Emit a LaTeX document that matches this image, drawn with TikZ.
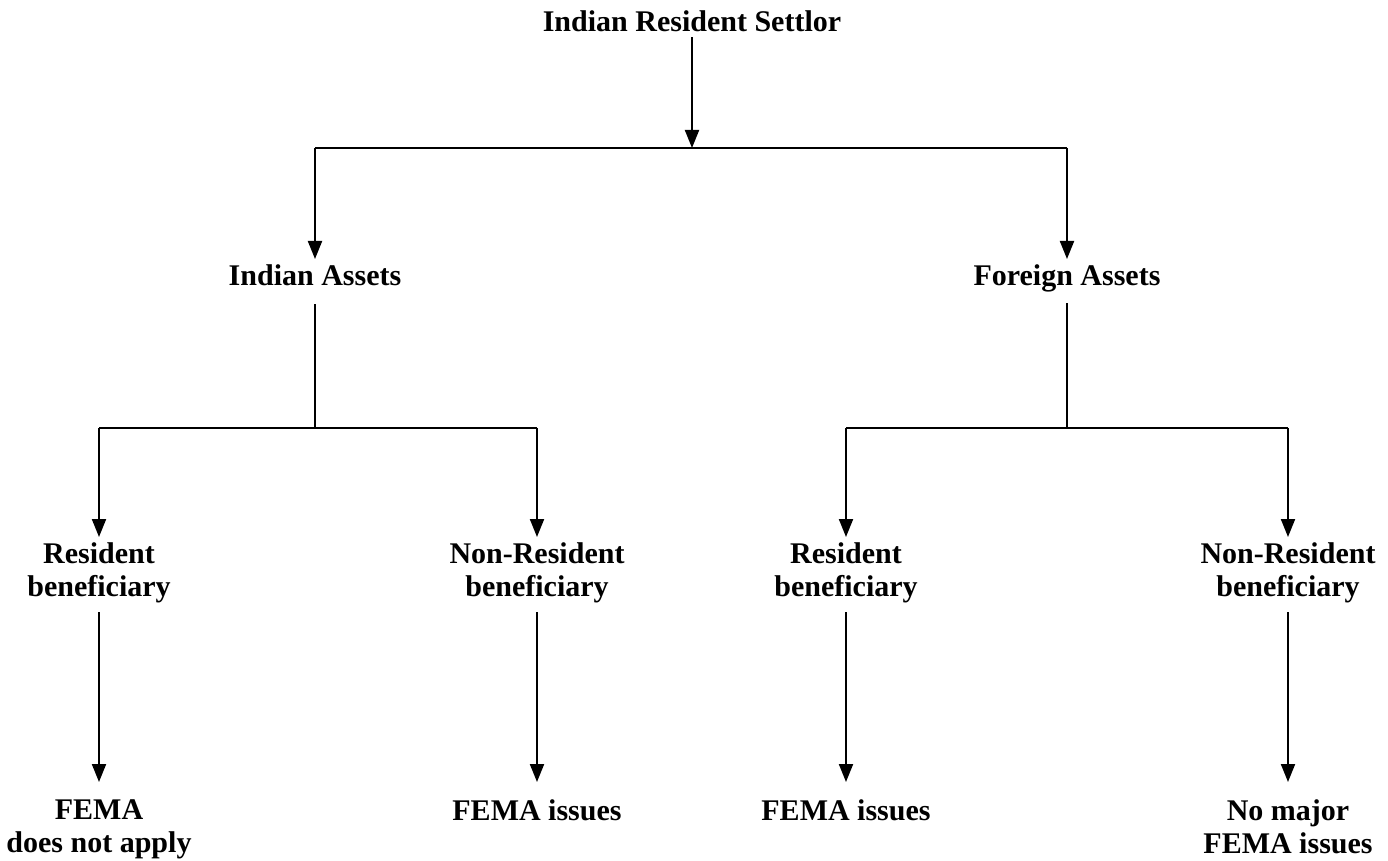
\documentclass[tikz,border=0pt]{standalone}
\usepackage{fontspec}
\setmainfont{Liberation Serif}
\usetikzlibrary{positioning,arrows.meta}

\begin{document}
\begin{tikzpicture}[x=0.5pt,y=-0.5pt]
  \tikzstyle{every node}=[inner sep=0,outer sep=0,align=center,font=\fontsize{15}{16.5}\selectfont\bfseries]
  \tikzstyle{link}=[line width=1pt]
  \tikzstyle{flow}=[link,-{Triangle[width=7pt,length=9pt]}]
  \useasboundingbox (0,0) rectangle (1388,861);
  {
    % settlor and assets
    \node[anchor=north] (settlor) at (692,11) {Indian Resident Settlor};
    \node[anchor=north] (indian) at (315,265) {Indian Assets};
    \node[anchor=north] (foreign) at (1067,265) {Foreign Assets};

    % beneficiaries
    \node[anchor=north] (resA) at (99,543) {Resident\\beneficiary};
    \node[anchor=north] (nresA) at (537,543) {Non-Resident\\beneficiary};
    \node[anchor=north] (resB) at (846,543) {Resident\\beneficiary};
    \node[anchor=north] (nresB) at (1288,543) {Non-Resident\\beneficiary};

    % outcomes
    \node[anchor=north] (femaA) at (99,800) {FEMA\\does not apply};
    \node[anchor=north] (issA) at (537,800) {FEMA issues};
    \node[anchor=north] (issB) at (846,800) {FEMA issues};
    \node[anchor=north] (minor) at (1288,800) {No major\\FEMA issues};

    \coordinate (split) at (692,148);
    \coordinate (splitL) at (315,148);
    \coordinate (splitR) at (1067,148);
    \coordinate (forkA) at (315,428);
    \coordinate (forkAl) at (99,428);
    \coordinate (forkAr) at (537,428);
    \coordinate (forkB) at (1067,428);
    \coordinate (forkBl) at (846,428);
    \coordinate (forkBr) at (1288,428);

    \draw[flow,shorten <=2.5pt] (settlor) -- (split);
    \draw[link] (splitL) -- (splitR);
    \draw[flow,shorten >=3pt] (splitL) -- (indian);
    \draw[flow,shorten >=3pt] (splitR) -- (foreign);

    \draw[link,shorten <=9pt] (indian) -- (forkA);
    \draw[link,shorten <=5.5pt] (foreign) -- (forkB);
    \draw[link] (forkAl) -- (forkAr);
    \draw[link] (forkBl) -- (forkBr);

    \draw[flow,shorten >=3pt] (forkAl) -- (resA);
    \draw[flow,shorten >=3pt] (forkAr) -- (nresA);
    \draw[flow,shorten >=3pt] (forkBl) -- (resB);
    \draw[flow,shorten >=3pt] (forkBr) -- (nresB);

    \draw[flow,shorten <=4.5pt,shorten >=9pt] (resA) -- (femaA);
    \draw[flow,shorten <=4.5pt,shorten >=9pt] (nresA) -- (issA);
    \draw[flow,shorten <=4.5pt,shorten >=9pt] (resB) -- (issB);
    \draw[flow,shorten <=4.5pt,shorten >=9pt] (nresB) -- (minor);
  }
\end{tikzpicture}
\end{document}
